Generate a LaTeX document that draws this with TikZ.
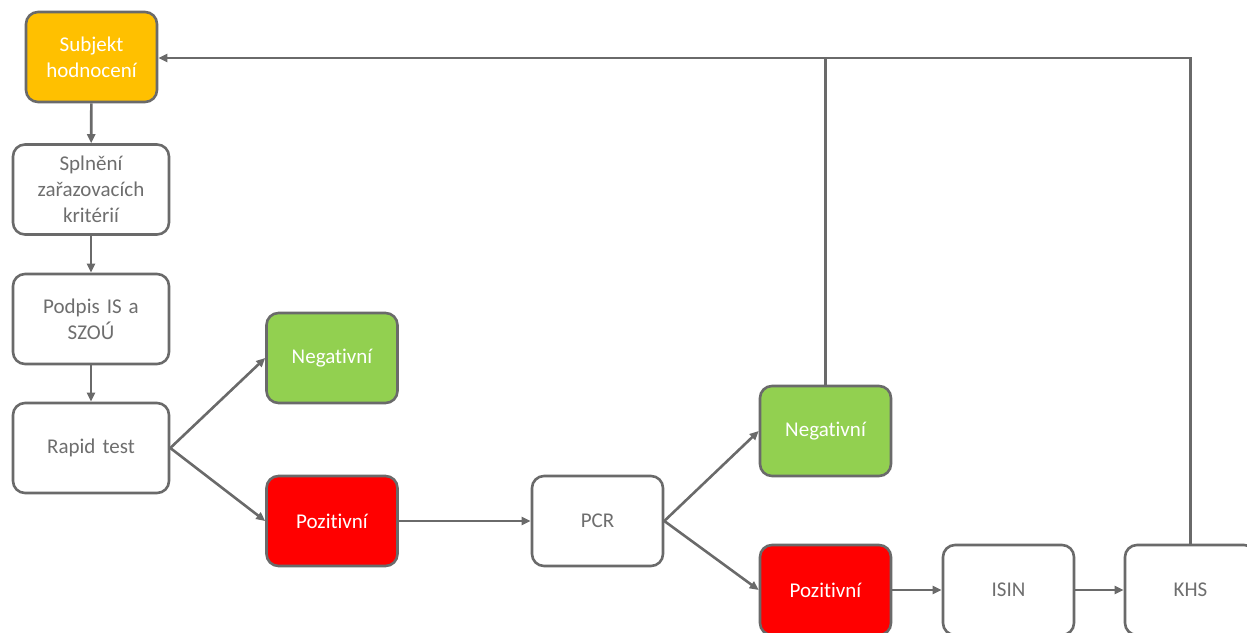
\documentclass[tikz,border=0pt]{standalone}
\usepackage{fontspec}
\setmainfont[RawFeature=-liga]{Carlito}
\usetikzlibrary{arrows.meta,positioning}
\definecolor{bordergrey}{HTML}{6A6A6A}
\definecolor{textgrey}{HTML}{6E6E6E}
\definecolor{orangefill}{HTML}{FFC000}
\definecolor{greenfill}{HTML}{92D050}
\definecolor{redfill}{HTML}{FF0000}
\tikzset{
  box/.style={draw=bordergrey, line width=2.6pt, rounded corners=12pt, fill=white,
    text=textgrey, align=center, inner sep=0pt,
    font=\fontsize{21}{26}\selectfont},
  widebox/.style={box, minimum width=156pt, minimum height=90pt, text width=150pt},
  narrowbox/.style={box, minimum width=131pt, minimum height=90pt, text width=125pt},
  orangebox/.style={narrowbox, fill=orangefill, text=white},
  greenbox/.style={narrowbox, fill=greenfill, text=white},
  redbox/.style={narrowbox, fill=redfill, text=white},
  conn/.style={draw=bordergrey, line width=2.6pt, -{Triangle[length=9pt,width=8pt]}},
  plain/.style={draw=bordergrey, line width=2.6pt}
}
\begin{document}
\begin{tikzpicture}[x=1pt,y=-1pt]
\useasboundingbox (0,0) rectangle (1247,632);
\clip (0,0) rectangle (1247,632);
\node[orangebox] (subj) at (91.5,57) {Subjekt\\hodnocení};
\node[widebox] (spl) at (91,189.5) {Splnění\\zařazovacích\\kritérií};
\node[widebox] (pod) at (91,319) {Podpis IS a\\SZOÚ};
\node[widebox] (rap) at (91,448) {\raisebox{-2pt}{Rapid test}};
\node[greenbox] (neg1) at (332,358) {Negativní};
\node[redbox] (pos1) at (332,521) {Pozitivní};
\node[narrowbox] (pcr) at (597.5,521) {PCR};
\node[greenbox] (neg2) at (825.5,431) {Negativní};
\node[redbox] (pos2) at (825.5,590) {Pozitivní};
\node[narrowbox] (isin) at (1008.5,590) {ISIN};
\node[narrowbox] (khs) at (1190.5,590) {KHS};

\draw[conn] (subj) -- (spl);
\draw[conn] (spl) -- (pod);
\draw[conn] (pod) -- (rap);
\draw[conn] (rap.east) -- (neg1.west);
\draw[conn] (rap.east) -- (pos1.west);
\draw[conn] (pos1) -- (pcr);
\draw[conn] (pcr.east) -- (neg2.west);
\draw[conn] (pcr.east) -- (pos2.west);
\draw[conn] (pos2) -- (isin);
\draw[conn] (isin) -- (khs);
\coordinate (top) at (khs.north |- 0,58);
\draw[plain] (neg2.north) -- (neg2.north |- top);
\draw[conn, line join=miter] (khs.north) -- (top) -- (top -| subj.east);
\end{tikzpicture}
\end{document}
